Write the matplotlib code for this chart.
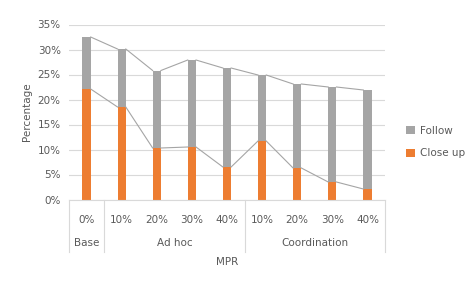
import matplotlib
matplotlib.use("Agg")
import matplotlib.pyplot as plt
import matplotlib.transforms as mtransforms
import numpy as np

# values (percent)
groups = ["Base", "Ad hoc", "Coordination"]
group_sizes = [1, 4, 4]
mpr_labels = ["0%", "10%", "20%", "30%", "40%", "10%", "20%", "30%", "40%"]
close_up = [22.1, 18.5, 10.3, 10.5, 6.5, 11.7, 6.3, 3.5, 2.1]
total = [32.5, 30.1, 25.8, 27.9, 26.3, 24.9, 23.1, 22.5, 21.9]
follow = [t - c for t, c in zip(total, close_up)]

orange = "#ED7D31"
grey = "#A5A5A5"
txt = "#595959"
grid = "#D9D9D9"

plt.rcParams['font.family'] = ['DejaVu Sans']

fig = plt.figure(figsize=(4.75, 2.84), dpi=100)
ax = fig.add_axes([69 / 475, 1 - 199.5 / 284, 316 / 475, 175 / 284])

x = np.arange(len(mpr_labels))
w = 0.235
cu = np.array(close_up) / 100
fo = np.array(follow) / 100
tot = cu + fo

ax.bar(x, cu, w, color=orange, label="Close up", zorder=2)
ax.bar(x, fo, w, bottom=cu, color=grey, label="Follow", zorder=2)

# series lines joining the bar tops
for i in range(len(x) - 1):
    ax.plot([x[i] + w / 2, x[i + 1] - w / 2], [tot[i], tot[i + 1]],
            color=grey, lw=0.8, zorder=3)
    ax.plot([x[i] + w / 2, x[i + 1] - w / 2], [cu[i], cu[i + 1]],
            color=grey, lw=0.8, zorder=3)

ax.set_xlim(-0.5, len(x) - 0.5)
ax.set_ylim(0, 0.35)
ax.set_yticks(np.arange(0, 0.351, 0.05))
ax.set_yticklabels([f"{int(round(v * 100))}%" for v in np.arange(0, 0.351, 0.05)])
ax.yaxis.grid(True, color=grid, lw=0.8, zorder=0)
ax.tick_params(axis='y', length=0, labelsize=7.5, labelcolor=txt, pad=6)
ax.tick_params(axis='x', length=0, labelsize=7.5, labelcolor=txt, pad=11)
ax.set_xticks(x)
ax.set_xticklabels(mpr_labels)
for s in ["top", "right", "left"]:
    ax.spines[s].set_visible(False)
ax.spines["bottom"].set_color(grid)
ax.spines["bottom"].set_linewidth(0.8)

# multi-level category axis
trans = mtransforms.blended_transform_factory(ax.transData, ax.transAxes)
depth = 52 / 175
bounds = np.concatenate([[0], np.cumsum(group_sizes)]) - 0.5
for b in bounds:
    ax.plot([b, b], [0, -depth], color=grid, lw=0.8, transform=trans, clip_on=False)
for g, lo, hi in zip(groups, bounds[:-1], bounds[1:]):
    ax.text((lo + hi) / 2, -43 / 175, g, transform=trans, ha="center", va="center",
            fontsize=7.5, color=txt)

ax.set_ylabel("Percentage", fontsize=7.5, color=txt, labelpad=4)
ax.text(0.5, -62.5 / 175, "MPR", transform=ax.transAxes, ha="center", va="center",
        fontsize=7.5, color=txt)

h, l = ax.get_legend_handles_labels()
fig.legend(h[::-1], l[::-1], loc="center left", bbox_to_anchor=(397 / 475, 1 - 142 / 284),
           frameon=False, fontsize=7.5, labelcolor=txt, handlelength=0.8,
           handleheight=0.8, handletextpad=0.5, labelspacing=1.2)

fig.savefig("out.png", dpi=100)
